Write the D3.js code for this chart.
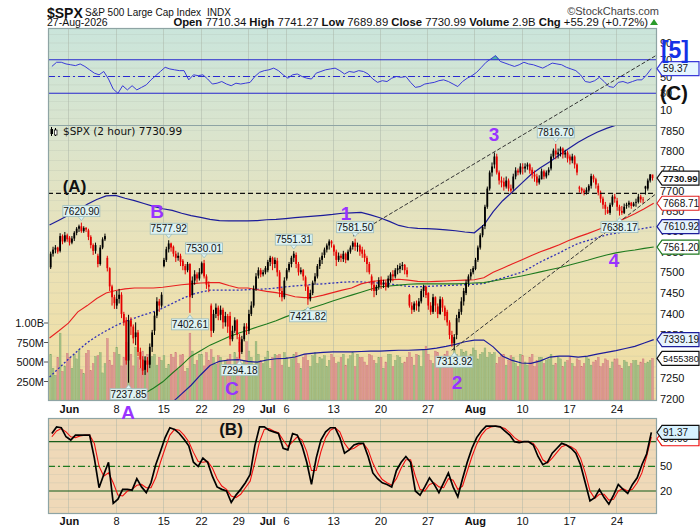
<!DOCTYPE html>
<html>
<head>
<meta charset="utf-8">
<script src="https://cdn.jsdelivr.net/npm/d3@7"></script>
<style>
    body { margin: 0; background: #fff; }
    svg text { font-family: "Liberation Sans", Arial, sans-serif; }
</style>
</head>
<body>
<script>
    // ---- DATA (2 hour bars, 4 per trading day, 64 days) ----
    var dayOpens = [7512, 7552, 7584, 7606, 7602, 7540, 7535, 7420, 7385, 7345, 7268, 7360, 7515, 7562, 7528, 7445,
        7498, 7420, 7398, 7395, 7345, 7360, 7492, 7505, 7528, 7485, 7542, 7488, 7478, 7542, 7565, 7532,
        7562, 7555, 7490, 7482, 7480, 7508, 7445, 7418, 7450, 7418, 7405, 7350, 7450, 7508, 7612, 7765,
        7722, 7705, 7758, 7752, 7728, 7755, 7798, 7785, 7708, 7700, 7712, 7652, 7675, 7662, 7670, 7710.34];

    var closes = [
        7545, 7555, 7560, 7550, 7588, 7575, 7590, 7580, 7572, 7582, 7596, 7606, 7612, 7600, 7608, 7604,
        7586, 7566, 7552, 7566, 7520, 7560, 7580, 7588, 7510, 7466, 7440, 7426, 7436, 7446, 7400, 7380,
        7290, 7385, 7370, 7342, 7356, 7310, 7292, 7266, 7290, 7280, 7322, 7356, 7396, 7430, 7420, 7446,
        7530, 7556, 7570, 7560, 7545, 7535, 7540, 7525, 7515, 7505, 7520, 7440, 7480, 7495, 7485, 7500,
        7522, 7490, 7470, 7465, 7360, 7400, 7415, 7395, 7410, 7380, 7395, 7370, 7340, 7360, 7385, 7350,
        7310, 7340, 7370, 7365, 7400, 7420, 7460, 7490, 7505, 7495, 7500, 7510, 7525, 7535, 7520, 7530,
        7500, 7455, 7440, 7480, 7505, 7520, 7535, 7545, 7520, 7500, 7505, 7490, 7465, 7435, 7450, 7475,
        7490, 7515, 7530, 7540, 7555, 7565, 7575, 7570, 7550, 7530, 7540, 7535, 7545, 7530, 7550, 7560,
        7572, 7562, 7565, 7550, 7545, 7535, 7520, 7500, 7470, 7455, 7465, 7480, 7470, 7475, 7465, 7485,
        7495, 7490, 7505, 7510, 7515, 7518, 7505, 7495, 7420, 7410, 7425, 7420, 7430, 7455, 7465, 7445,
        7420, 7405, 7440, 7420, 7400, 7435, 7415, 7395, 7380, 7350, 7330, 7345, 7390, 7405, 7430, 7455,
        7475, 7490, 7500, 7510, 7530, 7560, 7590, 7610, 7660, 7705, 7745, 7760, 7785, 7745, 7725, 7720,
        7710, 7725, 7705, 7700, 7735, 7750, 7745, 7760, 7755, 7760, 7765, 7750, 7740, 7735, 7720, 7730,
        7748, 7735, 7745, 7752, 7785, 7800, 7790, 7795, 7805, 7790, 7795, 7780, 7775, 7785, 7765, 7745,
        7705, 7700, 7695, 7702, 7712, 7736, 7728, 7715, 7695, 7680, 7665, 7655, 7645, 7665, 7685, 7680,
        7660, 7650, 7645, 7660, 7665, 7670, 7662, 7668, 7672, 7685, 7678, 7676, 7705, 7725, 7740, 7730.99];

    var highs = [
        7550, 7562, 7566, 7562, 7595, 7592, 7598, 7594, 7588, 7588, 7600, 7610, 7616, 7620.9, 7612, 7610,
        7606, 7590, 7570, 7572, 7545, 7566, 7585, 7594, 7540, 7512, 7470, 7446, 7455, 7460, 7452, 7405,
        7392, 7398, 7392, 7375, 7380, 7362, 7320, 7300, 7300, 7298, 7330, 7362, 7405, 7440, 7436, 7452,
        7535, 7562, 7577.92, 7572, 7565, 7552, 7548, 7545, 7532, 7520, 7525, 7522, 7490, 7505, 7500, 7510,
        7526, 7530.01, 7495, 7478, 7425, 7410, 7425, 7420, 7420, 7415, 7405, 7400, 7405, 7372, 7392, 7388,
        7352, 7348, 7378, 7378, 7410, 7430, 7468, 7498, 7512, 7510, 7506, 7515, 7530, 7540, 7538, 7536,
        7535, 7505, 7462, 7488, 7510, 7525, 7540, 7551.31, 7548, 7525, 7512, 7508, 7492, 7470, 7458, 7480,
        7498, 7520, 7536, 7548, 7560, 7570, 7580, 7578, 7568, 7555, 7548, 7545, 7552, 7548, 7555, 7565,
        7576, 7581.5, 7572, 7568, 7562, 7555, 7540, 7525, 7495, 7480, 7470, 7488, 7490, 7482, 7480, 7492,
        7500, 7505, 7510, 7518, 7522, 7525, 7520, 7512, 7448, 7428, 7430, 7432, 7438, 7460, 7470, 7468,
        7452, 7428, 7448, 7442, 7425, 7442, 7440, 7420, 7410, 7385, 7360, 7352, 7398, 7412, 7440, 7462,
        7482, 7495, 7508, 7515, 7535, 7565, 7595, 7615, 7665, 7710, 7750, 7770, 7795, 7792, 7750, 7735,
        7732, 7735, 7730, 7715, 7742, 7758, 7755, 7768, 7768, 7768, 7770, 7768, 7758, 7750, 7742, 7738,
        7755, 7752, 7750, 7758, 7792, 7805, 7816.7, 7805, 7810, 7808, 7802, 7800, 7790, 7792, 7788, 7768,
        7712, 7708, 7705, 7708, 7716, 7742, 7740, 7732, 7718, 7700, 7685, 7672, 7660, 7670, 7690, 7692,
        7682, 7665, 7662, 7668, 7670, 7675, 7672, 7672, 7680, 7692, 7690, 7684, 7712, 7730, 7741.27, 7739];

    var lows = [
        7508, 7538, 7546, 7545, 7548, 7568, 7572, 7574, 7565, 7568, 7576, 7590, 7598, 7596, 7596, 7598,
        7578, 7558, 7542, 7545, 7512, 7516, 7556, 7576, 7502, 7455, 7420, 7412, 7412, 7425, 7390, 7372,
        7280, 7237.85, 7350, 7330, 7326, 7300, 7272, 7256, 7256, 7262, 7272, 7310, 7350, 7390, 7405, 7415,
        7512, 7525, 7548, 7550, 7538, 7525, 7528, 7515, 7505, 7495, 7500, 7402.61, 7438, 7470, 7475, 7480,
        7495, 7485, 7460, 7452, 7345, 7355, 7390, 7385, 7385, 7365, 7370, 7355, 7325, 7335, 7355, 7340,
        7294.18, 7305, 7335, 7350, 7352, 7395, 7415, 7455, 7485, 7488, 7490, 7495, 7500, 7515, 7505, 7510,
        7490, 7440, 7430, 7435, 7480, 7500, 7512, 7525, 7510, 7492, 7495, 7480, 7455, 7421.82, 7430, 7445,
        7470, 7485, 7508, 7520, 7535, 7548, 7555, 7560, 7540, 7515, 7525, 7525, 7525, 7522, 7528, 7545,
        7555, 7552, 7550, 7540, 7535, 7525, 7500, 7495, 7455, 7440, 7445, 7458, 7460, 7462, 7456, 7462,
        7475, 7478, 7485, 7495, 7498, 7505, 7495, 7488, 7415, 7400, 7405, 7408, 7405, 7425, 7440, 7438,
        7410, 7398, 7400, 7405, 7390, 7398, 7405, 7385, 7372, 7340, 7322, 7313.92, 7340, 7380, 7398, 7420,
        7445, 7465, 7482, 7495, 7505, 7525, 7555, 7585, 7605, 7655, 7700, 7735, 7755, 7740, 7715, 7708,
        7700, 7705, 7698, 7695, 7700, 7728, 7738, 7740, 7740, 7745, 7752, 7742, 7730, 7722, 7712, 7715,
        7728, 7728, 7730, 7738, 7750, 7780, 7778, 7780, 7785, 7780, 7782, 7770, 7765, 7768, 7755, 7738,
        7695, 7692, 7688, 7690, 7695, 7705, 7720, 7705, 7688, 7670, 7655, 7640, 7642, 7640, 7660, 7670,
        7650, 7638.17, 7640, 7642, 7655, 7658, 7655, 7660, 7660, 7668, 7670, 7668, 7689.89, 7700, 7720, 7725];

    // volume in millions
    var volumes = [
        600, 420, 330, 560, 870, 380, 450, 610, 560, 420, 600, 540, 660, 400, 350, 610,
        650, 390, 480, 570, 580, 620, 360, 480, 800, 520, 460, 620, 690, 600, 450, 560,
        750, 520, 600, 450, 690, 560, 420, 640, 560, 600, 560, 570, 600, 460, 560, 520,
        580, 420, 470, 600, 560, 620, 400, 590, 600, 380, 420, 870, 640, 470, 520, 600,
        600, 450, 620, 520, 660, 560, 470, 580, 560, 400, 520, 540, 600, 450, 620, 560,
        750, 480, 520, 760, 640, 560, 450, 760, 600, 520, 480, 560, 640, 420, 560, 600,
        580, 600, 460, 620, 560, 430, 540, 600, 620, 480, 420, 560, 600, 520, 440, 580,
        620, 480, 560, 540, 580, 440, 520, 600, 560, 480, 500, 560, 600, 460, 540, 580,
        620, 440, 600, 560, 560, 500, 460, 600, 580, 520, 480, 560, 560, 420, 500, 600,
        600, 440, 520, 580, 560, 480, 500, 560, 620, 560, 460, 600, 580, 440, 660, 700,
        600, 520, 480, 640, 620, 500, 560, 600, 640, 560, 520, 660, 600, 520, 660, 620,
        640, 560, 600, 680, 650, 540, 600, 620, 680, 560, 620, 600, 620, 480, 560, 600,
        600, 460, 520, 580, 560, 480, 440, 600, 580, 500, 460, 560, 600, 440, 520, 560,
        560, 480, 520, 540, 600, 460, 480, 560, 540, 440, 500, 520, 560, 480, 440, 540,
        520, 440, 480, 560, 540, 460, 500, 520, 560, 440, 480, 540, 520, 420, 500, 540,
        540, 460, 420, 520, 500, 440, 480, 520, 520, 460, 500, 540, 480, 500, 520, 545.538];

    // overlays sampled at each day boundary (65 points)
    var bbUpper = [7615, 7627, 7639, 7651, 7666, 7678, 7687, 7688, 7681, 7675,
        7668, 7661, 7655, 7651, 7644, 7638, 7634, 7629, 7626, 7625,
        7625, 7625, 7626, 7628, 7629, 7631, 7633, 7635, 7637, 7639,
        7641, 7644, 7645, 7646, 7640, 7633, 7624, 7614, 7609, 7607,
        7606, 7605, 7603, 7601, 7598, 7596, 7615, 7648, 7675, 7696,
        7718, 7740, 7757, 7772, 7789, 7805, 7821, 7834, 7846, 7856,
        7864, 7870, 7875, 7879, 7882];
    var bbMiddle = [7251, 7272, 7293, 7313, 7332, 7347, 7360, 7372, 7382, 7390,
        7398, 7405, 7414, 7425, 7436, 7446, 7452, 7457, 7457, 7457,
        7457, 7458, 7459, 7460, 7462, 7465, 7467, 7469, 7471, 7472,
        7474, 7476, 7477, 7477, 7475, 7474, 7472, 7469, 7466, 7465,
        7466, 7467, 7468, 7469, 7470, 7471, 7473, 7480, 7486, 7493,
        7500, 7512, 7525, 7536, 7547, 7559, 7570, 7577, 7584, 7591,
        7595, 7599, 7603, 7607, 7610.92];
    var bbLower = [null, null, null, null, null, null, null, null, null, null, null, null,
        7160, 7192, 7212, 7232, 7256, 7278, 7288, 7291,
        7292, 7288, 7286, 7291, 7294, 7295, 7298, 7305, 7307, 7309,
        7310, 7310, 7310, 7311, 7312, 7312, 7313, 7314, 7314, 7315,
        7316, 7319, 7323, 7328, 7334, 7338, 7338, 7322, 7300, 7290,
        7284, 7283, 7289, 7298, 7300, 7300, 7298, 7300, 7305, 7309,
        7313, 7318, 7323, 7331, 7339.19];
    var maRed = [7343, 7360, 7378, 7405, 7420, 7437, 7450, 7456, 7460, 7462,
        7462, 7462, 7464, 7467, 7470, 7472, 7474, 7475, 7475, 7468,
        7462, 7462, 7458, 7454, 7451, 7447, 7441, 7439, 7440, 7445,
        7451, 7457, 7462, 7472, 7477, 7480, 7482, 7483, 7481, 7478,
        7477, 7478, 7479, 7480, 7481, 7482, 7487, 7500, 7510, 7520,
        7530, 7540, 7550, 7558, 7567, 7577, 7586, 7594, 7603, 7612,
        7622, 7632, 7643, 7655, 7668.71];
    var maGreen = [null, null, null, null, null, null, null, null, 7182, 7198,
        7212, 7225, 7240, 7260, 7279, 7300, 7313, 7326, 7336, 7346,
        7354, 7361, 7369, 7376, 7384, 7393, 7401, 7409, 7416, 7423,
        7431, 7438, 7445, 7452, 7459, 7465, 7467, 7469, 7471, 7472,
        7472, 7472, 7472, 7472, 7473, 7474, 7475, 7479, 7483, 7487,
        7491, 7496, 7501, 7506, 7511, 7517, 7523, 7529, 7536, 7542,
        7547, 7551, 7554, 7558, 7561.20];

    // indicators sampled every 2 bars (128 points)
    var rsi = [62, 67, 67, 65, 64, 63, 65, 62, 58, 54,
        52, 56, 47, 35, 30, 39, 34, 39, 34, 37,
        40, 46, 51, 56, 61, 59, 58, 57, 57, 46,
        52, 51, 52, 47, 41, 42, 44, 41, 39, 42,
        41, 42, 43, 50, 55, 57, 58, 60, 57, 52,
        48, 52, 53, 50, 48, 47, 54, 56, 58, 59,
        60, 57, 53, 56, 55, 57, 56, 53, 47, 43,
        45, 44, 48, 50, 49, 50, 43, 37, 38, 41,
        42, 43, 45, 46, 44, 41, 38, 44, 48, 51,
        55, 61, 67, 71, 75, 68, 66, 64, 62, 64,
        67, 65, 64, 62, 60, 63, 66, 65, 64, 61,
        59, 57, 52, 44, 43, 45, 49, 44, 38, 37,
        43, 44, 42, 44, 46, 46, 52, 59.37];
    var stochK = [90, 98, 97, 86, 82, 88, 88, 88, 88, 60,
        24, 40, 55, 5, 10, 22, 22, 21, 35, 25,
        18, 30, 52, 68, 85, 97, 95, 90, 83, 75,
        55, 50, 60, 55, 38, 25, 22, 20, 6, 15,
        22, 30, 40, 75, 98, 98, 94, 92, 90, 72,
        70, 90, 88, 75, 55, 28, 60, 82, 92, 97,
        97, 85, 66, 70, 76, 78, 78, 62, 42, 35,
        30, 28, 25, 45, 55, 62, 55, 20, 15, 25,
        36, 28, 18, 30, 42, 25, 13, 35, 55, 72,
        85, 93, 99, 99, 99, 98, 93, 88, 80, 79,
        80, 80, 76, 62, 52, 55, 66, 72, 78, 76,
        72, 66, 52, 30, 8, 12, 22, 12, 4, 15,
        28, 22, 17, 28, 36, 52, 65, 91.37];
    var stochD = [86, 93, 96, 92, 86, 85, 87, 88, 88, 78,
        50, 38, 42, 30, 15, 14, 20, 22, 27, 28,
        24, 24, 36, 55, 72, 88, 95, 94, 88, 80,
        67, 56, 55, 56, 48, 35, 26, 22, 14, 12,
        16, 24, 32, 55, 80, 95, 96, 93, 91, 82,
        74, 80, 86, 82, 68, 45, 45, 68, 85, 94,
        97, 92, 78, 70, 72, 76, 78, 70, 54, 42,
        34, 30, 27, 35, 48, 58, 58, 38, 22, 20,
        28, 30, 25, 24, 35, 33, 22, 26, 44, 62,
        77, 88, 95, 98, 99, 98, 96, 91, 85, 81,
        80, 80, 78, 70, 58, 54, 60, 67, 74, 76,
        74, 70, 60, 42, 20, 11, 16, 16, 9, 10,
        20, 23, 20, 22, 30, 42, 62, 86];

    // axis ticks
    var priceTicks = [7850, 7800, 7750, 7700, 7650, 7600, 7550, 7500, 7450, 7400, 7350, 7300, 7250, 7200];
    var volTicks = [250, 500, 750, 1000];
    var volTickLabels = ['250M', '500M', '750M', '1.00B'];
    var rsiTicks = [90, 70, 50, 30, 10];
    var stochTicks = [80, 50, 20];
    var dateTickDays = [2, 7, 12, 16, 21, 23, 25, 30, 35, 40, 45, 50, 55, 60];
    var dateTickLabels = ['Jun', '8', '15', '22', '29', 'Jul', '6', '13', '20', '27', 'Aug', '10', '17', '24'];

    // highs / lows flagged with a value box
    var markedBars = [13, 33, 50, 59, 65, 80, 103, 109, 129, 171, 214, 241];
    var markedSide = ['high', 'low', 'high', 'low', 'high', 'low', 'high', 'low', 'high', 'low', 'high', 'low'];

    // wave count annotations (bar, price)
    var waveText = ['B', '1', '3', '4', '2', 'C', 'A'];
    var waveBar = [45.6, 125.6, 188.3, 239.2, 172.7, 77.3, 33.3];
    var wavePrice = [7632, 7627, 7824, 7513, 7223, 7209, 7154];
    var levelA = 7693;
    var channelUpper = [[128.6, 7588], [257.4, 8044]];
    var channelLower = [[170.4, 7313.92], [257.4, 7694]];

    var quoteNames = ['Open', 'High', 'Low', 'Close', 'Volume', 'Chg'];
    var quoteValues = ['7710.34', '7741.27', '7689.89', '7730.99', '2.9B', '+55.29 (+0.72%)'];

    // ---- LAYOUT ----
    var L = 48, R = 657;
    var rsiTop = 28, mainTop = 125, mainBot = 401, stoTop = 418, stoBot = 514;
    var PURPLE = '#9933ff';

    var svg = d3.select('body').append('svg')
            .attr('width', 700)
            .attr('height', 530);

    var x = d3.scaleLinear().domain([0, 256]).range([49.5, 653.7]);
    var yP = d3.scaleLog().domain([7200, 7850]).range([399, 130.7]);
    var yV = d3.scaleLinear().domain([0, 1000]).range([401, 323]);
    var yR = d3.scaleLinear().domain([10, 90]).range([110, 43]);
    var yS = d3.scaleLinear().domain([20, 80]).range([491, 441.7]);

    var defs = svg.append('defs');
    var grad = defs.append('linearGradient').attr('id', 'bg')
            .attr('x1', 0).attr('y1', 0).attr('x2', 0).attr('y2', 1);
    [[0, '#cae5db'], [0.3, '#dbe4cc'], [0.62, '#ebe2b7'], [1, '#f1dd9f']].forEach(function (s) {
        grad.append('stop').attr('offset', s[0]).attr('stop-color', s[1]);
    });
    function clip(id, y0, y1) {
        defs.append('clipPath').attr('id', id).append('rect')
                .attr('x', L).attr('y', y0).attr('width', R - L).attr('height', y1 - y0);
    }
    clip('cRsi', rsiTop, mainTop);
    clip('cMain', mainTop, mainBot);
    clip('cSto', stoTop, stoBot);
    clip('cAll', rsiTop, mainBot);

    // BACKGROUNDS
    svg.append('rect').attr('x', L).attr('y', rsiTop).attr('width', R - L).attr('height', mainBot - rsiTop)
            .attr('fill', 'url(#bg)');
    svg.append('rect').attr('x', L).attr('y', stoTop).attr('width', R - L).attr('height', stoBot - stoTop)
            .attr('fill', '#efd9b8');

    // GRIDLINES
    var grid = svg.append('g').attr('stroke', '#a9b3a6').attr('stroke-width', 0.6);
    dateTickDays.forEach(function (d) {
        var gx = Math.round(x(d * 4)) + 0.5;
        grid.append('line').attr('x1', gx).attr('x2', gx).attr('y1', rsiTop).attr('y2', mainBot).attr('opacity', 0.8);
        grid.append('line').attr('x1', gx).attr('x2', gx).attr('y1', stoTop).attr('y2', stoBot).attr('opacity', 0.8);
    });
    d3.range(7200, 7875, 25).forEach(function (p) {
        grid.append('line').attr('x1', L).attr('x2', R).attr('y1', yP(p)).attr('y2', yP(p)).attr('opacity', 0.35);
    });
    d3.range(0, 101, 10).forEach(function (v) {
        if (yR(v) > rsiTop && yR(v) < mainTop)
            grid.append('line').attr('x1', L).attr('x2', R).attr('y1', yR(v)).attr('y2', yR(v)).attr('opacity', 0.35);
        if (yS(v) > stoTop && yS(v) < stoBot)
            grid.append('line').attr('x1', L).attr('x2', R).attr('y1', yS(v)).attr('y2', yS(v)).attr('opacity', 0.35);
    });

    // ---- RSI PANEL ----
    var rsiG = svg.append('g').attr('clip-path', 'url(#cRsi)');
    rsiG.append('path')
            .attr('d', d3.area().x(function (d, j) { return x(2 * j + 1); })
                    .y0(yR(70)).y1(function (d) { return yR(Math.max(d, 70)); })(rsi))
            .attr('fill', '#4fb3a4');
    [70, 30].forEach(function (v) {
        rsiG.append('line').attr('x1', L).attr('x2', R).attr('y1', yR(v)).attr('y2', yR(v))
                .attr('stroke', '#2a2ad0').attr('stroke-width', 1.1);
    });
    rsiG.append('line').attr('x1', L).attr('x2', R).attr('y1', yR(50)).attr('y2', yR(50))
            .attr('stroke', '#2a2ad0').attr('stroke-width', 1.1).attr('stroke-dasharray', '7,3,2,3');
    rsiG.append('path')
            .attr('d', d3.line().x(function (d, j) { return x(2 * j + 1); }).y(function (d) { return yR(d); })(rsi))
            .attr('fill', 'none').attr('stroke', '#3a3ad8').attr('stroke-width', 1);

    // ---- MAIN PANEL ----
    var bars = closes.map(function (c, i) {
        var o = (i % 4 === 0) ? dayOpens[i / 4] : closes[i - 1];
        var prev = i === 0 ? dayOpens[0] : closes[i - 1];
        return {i: i, o: o, h: highs[i], l: lows[i], c: c, v: volumes[i], up: c >= prev};
    });

    var mainG = svg.append('g').attr('clip-path', 'url(#cMain)');

    // VOLUME
    mainG.selectAll('rect.vol').data(bars).enter().append('rect')
            .attr('class', 'vol')
            .attr('x', function (d) { return x(d.i) + 0.3; })
            .attr('width', 1.8)
            .attr('y', function (d) { return yV(d.v); })
            .attr('height', function (d) { return mainBot - yV(d.v); })
            .attr('fill', function (d) { return d.up ? '#a6c089' : '#dc9a95'; })
            .attr('stroke', function (d) { return d.up ? '#86a867' : '#cf7a76'; })
            .attr('stroke-width', 0.4);

    // OVERLAYS
    function dayLine(arr) {
        return d3.line().defined(function (d) { return d != null; })
                .x(function (d, k) { return x(4 * k); })
                .y(function (d) { return yP(d); })(arr);
    }
    mainG.append('path').attr('d', dayLine(bbUpper)).attr('fill', 'none').attr('stroke', '#1c1c9a').attr('stroke-width', 1.2);
    mainG.append('path').attr('d', dayLine(bbLower)).attr('fill', 'none').attr('stroke', '#1c1c9a').attr('stroke-width', 1.2);
    mainG.append('path').attr('d', dayLine(bbMiddle)).attr('fill', 'none').attr('stroke', '#3030b8')
            .attr('stroke-width', 1.3).attr('stroke-dasharray', '2,2');
    mainG.append('path').attr('d', dayLine(maRed)).attr('fill', 'none').attr('stroke', '#e82020').attr('stroke-width', 1.1);
    mainG.append('path').attr('d', dayLine(maGreen)).attr('fill', 'none').attr('stroke', '#1e7a1e').attr('stroke-width', 1.1);

    // CANDLES
    var candle = mainG.selectAll('g.candle').data(bars).enter().append('g').attr('class', 'candle');
    candle.append('line')
            .attr('x1', function (d) { return x(d.i + 0.5); })
            .attr('x2', function (d) { return x(d.i + 0.5); })
            .attr('y1', function (d) { return yP(d.h); })
            .attr('y2', function (d) { return yP(d.l); })
            .attr('stroke', function (d) { return d.up ? '#000' : '#e60000'; })
            .attr('stroke-width', 1);
    candle.append('rect')
            .attr('x', function (d) { return x(d.i + 0.5) - 0.9; })
            .attr('width', 1.8)
            .attr('y', function (d) { return yP(Math.max(d.o, d.c)); })
            .attr('height', function (d) { return Math.max(0.8, Math.abs(yP(d.o) - yP(d.c))); })
            .attr('fill', function (d) { return d.up ? '#000' : '#e60000'; });

    // LEVEL + CHANNEL LINES
    var allG = svg.append('g').attr('clip-path', 'url(#cAll)');
    allG.append('line').attr('x1', L).attr('x2', R).attr('y1', yP(levelA)).attr('y2', yP(levelA))
            .attr('stroke', '#111').attr('stroke-width', 1.1).attr('stroke-dasharray', '5,3');
    [channelUpper, channelLower].forEach(function (c) {
        allG.append('line')
                .attr('x1', x(c[0][0])).attr('y1', yP(c[0][1]))
                .attr('x2', x(c[1][0])).attr('y2', yP(c[1][1]))
                .attr('stroke', '#333').attr('stroke-width', 1).attr('stroke-dasharray', '4,2');
    });

    // HIGH / LOW VALUE BOXES
    markedBars.forEach(function (b, n) {
        var isHigh = markedSide[n] === 'high';
        var v = isHigh ? highs[b] : lows[b];
        var cx = x(b + 0.5), py = yP(v);
        var by = isHigh ? py - 17 : py + 6;
        var g = svg.append('g');
        g.append('path')
                .attr('d', isHigh
                        ? 'M' + (cx - 3.5) + ',' + (py - 6.5) + 'L' + cx + ',' + (py - 2) + 'L' + (cx + 3.5) + ',' + (py - 6.5) + 'Z'
                        : 'M' + (cx - 3.5) + ',' + (py + 6.5) + 'L' + cx + ',' + (py + 2) + 'L' + (cx + 3.5) + ',' + (py + 6.5) + 'Z')
                .attr('fill', '#def2f2').attr('stroke', '#9cbcbc').attr('stroke-width', 0.8);
        g.append('rect').attr('x', cx - 18.5).attr('y', by).attr('width', 37).attr('height', 11)
                .attr('fill', '#def2f2').attr('stroke', '#9cbcbc').attr('stroke-width', 0.8);
        g.append('text').attr('x', cx).attr('y', by + 9).attr('text-anchor', 'middle')
                .attr('font-size', '10px').attr('fill', '#111').text(v.toFixed(2));
    });

    // LEGEND
    var leg = svg.append('g');
    leg.append('line').attr('x1', 51.5).attr('x2', 51.5).attr('y1', 127).attr('y2', 136).attr('stroke', '#000');
    leg.append('rect').attr('x', 50.5).attr('y', 129).attr('width', 2.5).attr('height', 5).attr('fill', '#000');
    leg.append('line').attr('x1', 55.5).attr('x2', 55.5).attr('y1', 128).attr('y2', 136).attr('stroke', '#000');
    leg.append('rect').attr('x', 54.5).attr('y', 130).attr('width', 2.5).attr('height', 5).attr('fill', '#fff').attr('stroke', '#000').attr('stroke-width', 0.7);
    leg.append('text').attr('x', 63).attr('y', 135).attr('font-size', '10.5px')
            .attr('style', 'font-family:"DejaVu Sans",Verdana,sans-serif').attr('fill', '#111')
            .text('$SPX (2 hour) ' + closes[255].toFixed(2));

    // ---- STOCHASTIC PANEL ----
    var stoG = svg.append('g').attr('clip-path', 'url(#cSto)');
    [80, 20].forEach(function (v) {
        stoG.append('line').attr('x1', L).attr('x2', R).attr('y1', yS(v)).attr('y2', yS(v))
                .attr('stroke', '#1a5e1a').attr('stroke-width', 1.2);
    });
    stoG.append('line').attr('x1', L).attr('x2', R).attr('y1', yS(50)).attr('y2', yS(50))
            .attr('stroke', '#1f7a1f').attr('stroke-width', 1.2).attr('stroke-dasharray', '7,3,2,3');
    function idxLine(arr) {
        return d3.line().x(function (d, j) { return x(2 * j + 1); }).y(function (d) { return yS(d); })(arr);
    }
    stoG.append('path').attr('d', idxLine(stochD)).attr('fill', 'none').attr('stroke', '#f01010').attr('stroke-width', 1.1);
    stoG.append('path').attr('d', idxLine(stochK)).attr('fill', 'none').attr('stroke', '#000').attr('stroke-width', 1.7);

    // PANEL BORDERS
    [[rsiTop, mainBot], [stoTop, stoBot]].forEach(function (p) {
        svg.append('rect').attr('x', L + 0.5).attr('y', p[0] + 0.5).attr('width', R - L - 1).attr('height', p[1] - p[0] - 1)
                .attr('fill', 'none').attr('stroke', '#8ea4a4').attr('stroke-width', 1.2);
    });
    svg.append('line').attr('x1', L).attr('x2', R).attr('y1', mainTop + 0.5).attr('y2', mainTop + 0.5)
            .attr('stroke', '#8ea4a4').attr('stroke-width', 1.2);

    // ---- AXES ----
    var ax = svg.append('g').attr('font-size', '11px').attr('fill', '#111');
    priceTicks.forEach(function (p) {
        ax.append('text').attr('x', 660).attr('y', yP(p) + 4).text(p);
    });
    rsiTicks.forEach(function (v) {
        ax.append('text').attr('x', 660).attr('y', yR(v) + 4).text(v);
    });
    stochTicks.forEach(function (v) {
        ax.append('text').attr('x', 660).attr('y', yS(v) + 4).text(v);
    });
    volTicks.forEach(function (v, n) {
        ax.append('text').attr('x', 44).attr('y', yV(v) + 4).attr('text-anchor', 'end').text(volTickLabels[n]);
        ax.append('line').attr('x1', 44).attr('x2', L).attr('y1', yV(v)).attr('y2', yV(v)).attr('stroke', '#555');
    });
    dateTickDays.forEach(function (d, n) {
        var t = dateTickLabels[n];
        var isMonth = isNaN(+t);
        var tx = x(d * 4) + (t === '29' ? -9 : 1);
        [413, 525].forEach(function (ty) {
            ax.append('text').attr('x', tx).attr('y', ty).attr('text-anchor', 'middle')
                    .attr('font-weight', isMonth ? 'bold' : 'normal').text(t);
        });
    });

    // ---- RIGHT-HAND VALUE TAGS ----
    function tag(yv, txt, stroke, fill, bold, size) {
        var g = svg.append('g');
        g.append('path')
                .attr('d', 'M657,' + yv + 'L662,' + (yv - 7) + 'H699V' + (yv + 7) + 'H662Z')
                .attr('fill', fill).attr('stroke', stroke).attr('stroke-width', 1.2);
        g.append('text').attr('x', 663).attr('y', yv + 3.5).attr('font-size', (size || (bold ? 9.6 : 10)) + 'px')
                .attr('font-weight', bold ? 'bold' : 'normal').attr('fill', '#111').text(txt);
    }
    tag(yP(closes[255]), closes[255].toFixed(2), '#111', '#fff', true);
    tag(yP(maRed[64]), maRed[64].toFixed(2), '#e02020', '#fff', false);
    tag(yP(bbMiddle[64]), bbMiddle[64].toFixed(2), '#1c1c9a', '#e6f3ff', false);
    tag(yP(maGreen[64]), maGreen[64].toFixed(2), '#1e7a1e', '#fff', false);
    tag(yP(bbLower[64]), bbLower[64].toFixed(2), '#1c1c9a', '#e6f3ff', false);
    tag(yV(volumes[255]), (volumes[255] * 10000).toFixed(0), '#111', '#fff', false, 9.2);
    tag(yR(rsi[127]), rsi[127].toFixed(2), '#3a3ad8', '#e6f6ff', false);
    tag(yS(stochD[127]) + 2, stochD[127].toFixed(2), '#f01010', '#fff', false);
    tag(yS(stochK[127]), stochK[127].toFixed(2), '#111', '#d8f2ff', false);

    // ---- WAVE LABELS ----
    var wv = svg.append('g').attr('font-weight', 'bold').attr('text-anchor', 'middle');
    waveText.forEach(function (t, n) {
        wv.append('text').attr('x', x(waveBar[n])).attr('y', yP(wavePrice[n]))
                .attr('font-size', '19px').attr('fill', PURPLE).text(t);
    });
    wv.append('text').attr('x', x(10.6)).attr('y', yP(7696)).attr('font-size', '17px').attr('fill', '#111').text('(A)');
    wv.append('text').attr('x', x(76.9)).attr('y', yS(88)).attr('font-size', '17px').attr('fill', '#111').text('(B)');
    wv.append('text').attr('x', x(264.6)).attr('y', yR(21.9)).attr('font-size', '20px').attr('fill', '#111').text('(C)');
    wv.append('text').attr('x', x(265)).attr('y', yR(72)).attr('font-size', '23px').attr('fill', '#1432e6').text('[5]');

    // ---- HEADER ----
    var hd = svg.append('g').attr('fill', '#111');
    hd.append('text').attr('x', 47).attr('y', 18).attr('font-size', '14px').attr('font-weight', 'bold').text('$SPX');
    hd.append('text').attr('x', 85).attr('y', 16).attr('font-size', '10px').text('S&P 500 Large Cap Index');
    hd.append('text').attr('x', 207).attr('y', 16).attr('font-size', '10px').text('INDX');
    hd.append('text').attr('x', 659).attr('y', 15).attr('font-size', '11px').attr('text-anchor', 'end')
            .attr('fill', '#444').text('\u00a9StockCharts.com');
    hd.append('text').attr('x', 47).attr('y', 26).attr('font-size', '10.5px').text('27-Aug-2026');
    var q = hd.append('text').attr('x', 648).attr('y', 26).attr('font-size', '11.3px').attr('text-anchor', 'end');
    quoteNames.forEach(function (nm, n) {
        q.append('tspan').attr('font-weight', 'bold').text((n ? '  ' : '') + nm);
        q.append('tspan').text(' ' + quoteValues[n]);
    });
    hd.append('path').attr('d', 'M650,25L654,19L658,25Z').attr('fill', '#2a9a2a');
</script>
</body>
</html>
